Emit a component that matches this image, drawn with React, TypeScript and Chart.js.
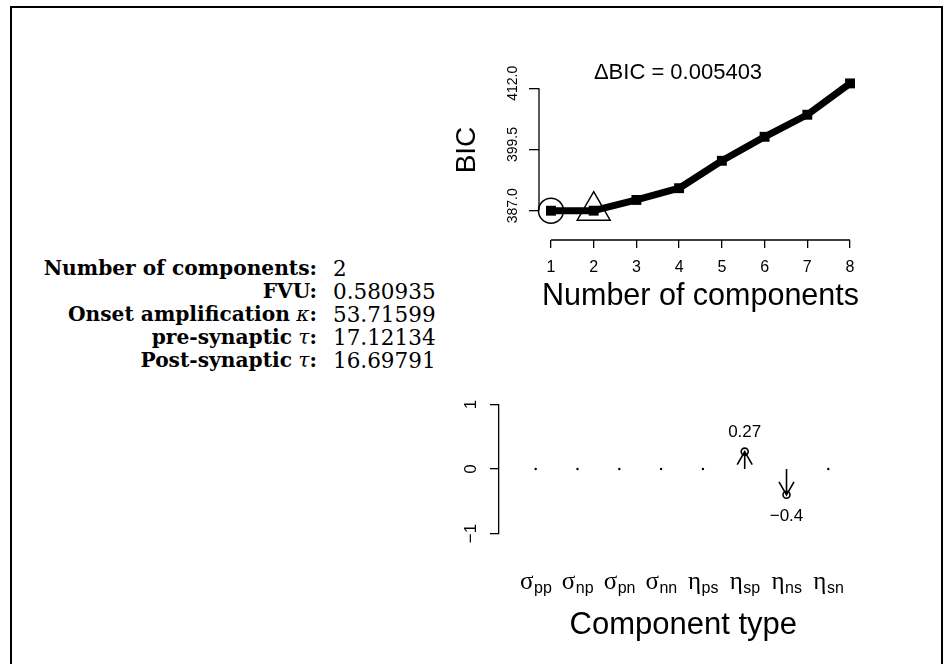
import React, { useEffect, useRef } from 'react';
import { Chart, registerables } from 'chart.js';

Chart.register(...registerables);

// ---- data: BIC panel ----
const componentCounts = [1, 2, 3, 4, 5, 6, 7, 8];
const bicValues = [387.0, 387.005, 389.2, 391.6, 397.2, 402.1, 406.6, 413.0];
const bicTicks = [387.0, 399.5, 412.0];
const minBicIndex = 0;
const chosenIndex = 1;
const deltaBicText = 'ΔBIC = 0.005403';

// ---- data: component type panel ----
const typeSymbols = ['σ', 'σ', 'σ', 'σ', 'η', 'η', 'η', 'η'];
const typeSubscripts = ['pp', 'np', 'pn', 'nn', 'ps', 'sp', 'ns', 'sn'];
const typeValues = [0, 0, 0, 0, 0, 0.27, -0.4, 0];
const typeTicks = [-1, 0, 1];

// ---- data: summary text ----
const summaryLabels = ['Number of components', 'FVU', 'Onset amplification', 'pre-synaptic', 'Post-synaptic'];
const summarySymbols = ['', '', 'κ', 'τ', 'τ'];
const summaryValues = ['2', '0.580935', '53.71599', '17.12134', '16.69791'];

const SANS = '"Liberation Sans", Arial, sans-serif';
const W = 948;
const H = 664;

const minus = (s: string) => s.replace('-', '\u2212');

const bicPlugin = {
  id: 'bicDecor',
  afterDraw(chart: any) {
    const { ctx, chartArea } = chart;
    const xs = chart.scales.x;
    const ys = chart.scales.y;
    ctx.save();
    ctx.strokeStyle = '#000';
    ctx.lineWidth = 1.3;
    ctx.beginPath();
    ctx.moveTo(chartArea.left, ys.getPixelForValue(bicTicks[0]));
    ctx.lineTo(chartArea.left, ys.getPixelForValue(bicTicks[bicTicks.length - 1]));
    ctx.moveTo(xs.getPixelForValue(componentCounts[0]), chartArea.bottom);
    ctx.lineTo(xs.getPixelForValue(componentCounts[componentCounts.length - 1]), chartArea.bottom);
    ctx.stroke();
    ctx.fillStyle = '#000';
    ctx.font = `22px ${SANS}`;
    ctx.textAlign = 'center';
    ctx.textBaseline = 'middle';
    ctx.fillText(deltaBicText, 678, 73);
    ctx.restore();
  },
};

const typePlugin = {
  id: 'typeDecor',
  afterDatasetsDraw(chart: any) {
    const { ctx, chartArea } = chart;
    const xs = chart.scales.x;
    const ys = chart.scales.y;
    const y0 = ys.getPixelForValue(0);
    ctx.save();
    ctx.strokeStyle = '#000';
    ctx.fillStyle = '#000';
    ctx.lineWidth = 1.6;
    typeValues.forEach((v, i) => {
      if (v === 0) return;
      const x = xs.getPixelForValue(i);
      const y = ys.getPixelForValue(v);
      const dir = y < y0 ? 1 : -1;
      const L = 15;
      const a = Math.PI / 6;
      ctx.beginPath();
      ctx.moveTo(x, y0);
      ctx.lineTo(x, y);
      ctx.moveTo(x - L * Math.sin(a), y + dir * L * Math.cos(a));
      ctx.lineTo(x, y);
      ctx.lineTo(x + L * Math.sin(a), y + dir * L * Math.cos(a));
      ctx.stroke();
      ctx.font = `17px ${SANS}`;
      ctx.textAlign = 'center';
      ctx.textBaseline = 'middle';
      ctx.fillText(minus(String(v)), x, v > 0 ? y - 19 : y + 22);
    });
    const baseY = chartArea.bottom + 55;
    ctx.textAlign = 'left';
    ctx.textBaseline = 'alphabetic';
    typeSymbols.forEach((s, i) => {
      const cx = xs.getPixelForValue(i);
      const sub = typeSubscripts[i];
      ctx.font = '25px "Liberation Serif", serif';
      const w1 = ctx.measureText(s).width;
      ctx.font = `16px ${SANS}`;
      const w2 = ctx.measureText(sub).width;
      const x0 = cx - (w1 + w2) / 2;
      ctx.font = '25px "Liberation Serif", serif';
      ctx.fillText(s, x0, baseY);
      ctx.font = `16px ${SANS}`;
      ctx.fillText(sub, x0 + w1 + 0.5, baseY + 4);
    });
    ctx.restore();
  },
};

export default function App() {
  const topRef = useRef<HTMLCanvasElement>(null);
  const botRef = useRef<HTMLCanvasElement>(null);

  useEffect(() => {
    const yLeft = 539;
    const yAxisW = 88.3;
    const xAxisH = 75.3;
    const areaBottom = 240;
    const top = new Chart(topRef.current!, {
      type: 'line',
      data: {
        datasets: [
          {
            data: [{ x: componentCounts[minBicIndex], y: bicValues[minBicIndex] }],
            showLine: false,
            pointStyle: 'circle',
            pointRadius: 12.5,
            pointBorderWidth: 1.5,
            pointBorderColor: '#000',
            pointBackgroundColor: 'rgba(0,0,0,0)',
            clip: false,
          },
          {
            data: [{ x: componentCounts[chosenIndex], y: bicValues[chosenIndex] }],
            showLine: false,
            pointStyle: 'triangle',
            pointRadius: 19,
            pointBorderWidth: 1.5,
            pointBorderColor: '#000',
            pointBackgroundColor: 'rgba(0,0,0,0)',
            clip: false,
          },
          {
            data: componentCounts.map((c, i) => ({ x: c, y: bicValues[i] })),
            borderColor: '#000',
            borderWidth: 7,
            borderJoinStyle: 'round',
            borderCapStyle: 'round',
            pointStyle: 'rect',
            pointRadius: 7,
            pointBorderWidth: 0,
            pointBackgroundColor: '#000',
            tension: 0,
            clip: false,
          },
        ],
      },
      options: {
        animation: false,
        responsive: false,
        events: [],
        layout: {
          padding: { left: yLeft - yAxisW, top: 60, right: W - 862, bottom: H - areaBottom - xAxisH },
        },
        plugins: { legend: { display: false }, tooltip: { enabled: false }, title: { display: false } },
        scales: {
          x: {
            type: 'linear',
            min: 0.72,
            max: 8.28,
            afterBuildTicks: (s: any) => {
              s.ticks = componentCounts.map((v) => ({ value: v }));
            },
            afterFit: (s: any) => {
              s.height = xAxisH;
            },
            border: { display: false },
            grid: { display: true, drawOnChartArea: false, drawTicks: true, tickLength: 8, color: '#000', lineWidth: 1.3 },
            ticks: { color: '#000', font: { family: SANS, size: 16 }, padding: 10, maxRotation: 0, autoSkip: false },
            title: {
              display: true,
              text: 'Number of components',
              color: '#000',
              font: { family: SANS, size: 30.5 },
              padding: 0,
            },
          },
          y: {
            type: 'linear',
            min: 381.02,
            max: 417.78,
            afterBuildTicks: (s: any) => {
              s.ticks = bicTicks.map((v) => ({ value: v }));
            },
            afterFit: (s: any) => {
              s.width = yAxisW;
            },
            border: { display: false },
            grid: { display: true, drawOnChartArea: false, drawTicks: true, tickLength: 10, color: '#000', lineWidth: 1.3 },
            ticks: {
              color: '#000',
              font: { family: SANS, size: 14 },
              minRotation: 90,
              maxRotation: 90,
              crossAlign: 'center',
              padding: -2,
              labelOffset: -5,
              callback: (v: any) => Number(v).toFixed(1),
            },
            title: { display: true, text: 'BIC', color: '#000', font: { family: SANS, size: 28 }, padding: 0 },
          },
        },
      },
      plugins: [bicPlugin],
    } as any);

    const axisX = 499;
    const yW2 = 60;
    const xH2 = 110.1;
    const bottomArea = 533.5;
    const bot = new Chart(botRef.current!, {
      type: 'scatter',
      data: {
        datasets: [
          {
            data: typeValues.map((v, i) => ({ x: i, y: v })),
            showLine: false,
            pointStyle: 'circle',
            pointRadius: (c: any) => (typeValues[c.dataIndex] === 0 ? 1.2 : 3.5),
            pointBorderWidth: (c: any) => (typeValues[c.dataIndex] === 0 ? 0 : 1.6),
            pointBorderColor: '#000',
            pointBackgroundColor: (c: any) => (typeValues[c.dataIndex] === 0 ? '#000' : 'rgba(0,0,0,0)'),
            clip: false,
          },
        ],
      },
      options: {
        animation: false,
        responsive: false,
        events: [],
        layout: {
          padding: { left: axisX - yW2, top: 404.5, right: W - 867.6, bottom: H - bottomArea - xH2 },
        },
        plugins: { legend: { display: false }, tooltip: { enabled: false } },
        scales: {
          x: {
            type: 'linear',
            min: -0.878,
            max: 7.94,
            afterBuildTicks: (s: any) => {
              s.ticks = typeSymbols.map((_, i) => ({ value: i }));
            },
            afterFit: (s: any) => {
              s.height = xH2;
            },
            border: { display: false },
            grid: { display: false },
            ticks: { display: false },
            title: {
              display: true,
              text: 'Component type',
              color: '#000',
              font: { family: SANS, size: 31 },
              padding: 0,
            },
          },
          y: {
            type: 'linear',
            min: -1,
            max: 1,
            afterBuildTicks: (s: any) => {
              s.ticks = typeTicks.map((v) => ({ value: v }));
            },
            afterFit: (s: any) => {
              s.width = yW2;
            },
            border: { display: true, color: '#000', width: 1.3 },
            grid: { display: true, drawOnChartArea: false, drawTicks: true, tickLength: 9, color: '#000', lineWidth: 1.3 },
            ticks: {
              color: '#000',
              font: { family: SANS, size: 17 },
              minRotation: 90,
              maxRotation: 90,
              crossAlign: 'center',
              padding: 9,
              callback: (v: any) => minus(String(v)),
            },
          },
        },
      },
      plugins: [typePlugin],
    } as any);

    return () => {
      top.destroy();
      bot.destroy();
    };
  }, []);

  const canvasStyle: React.CSSProperties = { position: 'absolute', left: 0, top: 0, width: W, height: H };

  return (
    <div style={{ position: 'absolute', left: 0, top: 0, width: W, height: H, overflow: 'hidden', background: '#fff' }}>
      <div
        style={{
          position: 'absolute',
          left: 10,
          top: 6,
          width: 929,
          height: 700,
          border: '2px solid #000',
        }}
      />
      {summaryLabels.map((lab, i) => (
        <React.Fragment key={i}>
          <div
            style={{
              position: 'absolute',
              left: 0,
              width: 317,
              top: 256.5 + i * 23,
              height: 23,
              lineHeight: '23px',
              textAlign: 'right',
              fontFamily: '"DejaVu Serif", serif',
              fontWeight: 'bold',
              fontSize: 20.2,
              color: '#000',
              whiteSpace: 'nowrap',
            }}
          >
            {lab}
            {summarySymbols[i] ? (
              <span style={{ fontWeight: 'normal', fontStyle: 'italic' }}>{' ' + summarySymbols[i]}</span>
            ) : null}
            :
          </div>
          <div
            style={{
              position: 'absolute',
              left: 333,
              top: 256.5 + i * 23,
              height: 23,
              lineHeight: '23px',
              fontFamily: '"DejaVu Serif", serif',
              fontSize: 21.5,
              color: '#000',
              whiteSpace: 'nowrap',
            }}
          >
            {summaryValues[i]}
          </div>
        </React.Fragment>
      ))}
      <canvas ref={topRef} width={W} height={H} style={canvasStyle} />
      <canvas ref={botRef} width={W} height={H} style={canvasStyle} />
    </div>
  );
}
